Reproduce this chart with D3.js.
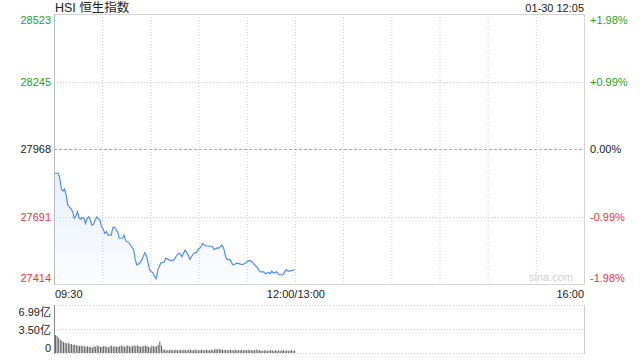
<!DOCTYPE html>
<html>
<head>
<meta charset="utf-8">
<script src="https://cdn.jsdelivr.net/npm/d3@7"></script>
<style>
  body { margin: 0; background: #fff; }
  svg { display: block; font-family: "Liberation Sans", Arial, "Noto Sans CJK SC", sans-serif; }
</style>
</head>
<body>
<script>
// minutes after 09:30 (afternoon session continues after minute 150)
var minutes = [0,2,3,4,5,6,7,8,9,10,11,12,13,14,15,16,17,18,19,20,21,22,23,24,25,26,27,28,29,30,
  31,32,33,34,35,36,37,39,40,42,43,44,46,47,49,50,51,53,54,56,57,58,59,61,62,63,64,66,68,69,
  71,72,74,76,77,78,79,81,82,83,84,86,87,88,89,91,92,93,94,96,98,99,101,102,104,105,106,107,109,110,
  111,112,113,114,116,117,118,119,121,122,123,124,126,127,128,130,131,133,134,135,136,138,139,141,142,143,144,145,146,148,149];
var prices = [27869,27869,27848,27804,27796,27804,27777,27738,27730,27722,27711,27684,27694,27711,27684,27681,27686,27684,27663,27684,27690,27677,27656,27659,27677,27690,27681,27677,27649,27640,
  27622,27629,27615,27615,27615,27645,27647,27628,27602,27602,27614,27592,27584,27574,27554,27513,27492,27501,27513,27543,27529,27499,27471,27460,27444,27436,27471,27501,27504,27520,
  27513,27510,27513,27533,27540,27537,27526,27554,27543,27532,27515,27537,27543,27543,27554,27567,27581,27574,27570,27570,27567,27556,27562,27561,27574,27561,27533,27515,27513,27501,
  27492,27495,27500,27499,27495,27495,27497,27503,27511,27508,27503,27495,27481,27470,27464,27464,27456,27462,27456,27467,27459,27464,27454,27451,27454,27464,27473,27467,27467,27470,27473];

// volume per minute, 亿
var volumes = [2.6,2.5,2.2,1.9,1.8,1.6,1.5,1.4,1.5,1.3,
  1.3,1.2,1.2,1.1,1.1,1.0,1.1,1.0,1.0,0.9,
  1.0,0.9,0.9,0.8,1.0,0.9,1.1,1.0,0.9,0.9,
  1.0,1.0,0.9,0.8,1.0,1.1,0.9,1.0,0.9,0.9,
  1.0,1.1,1.0,0.9,1.0,1.1,1.0,0.9,1.0,1.1,
  1.0,1.1,1.0,0.9,1.0,1.0,1.1,1.0,0.9,0.8,
  1.1,1.0,0.9,1.0,1.2,1.7,1.1,0.5,0.5,0.4,
  0.4,0.4,0.5,0.4,0.4,0.5,0.4,0.4,0.5,0.4,
  0.5,0.4,0.4,0.5,0.5,0.4,0.4,0.5,0.4,0.4,
  0.4,0.5,0.4,0.4,0.5,0.4,0.4,0.5,0.4,0.5,
  0.6,0.5,0.6,0.5,0.5,0.4,0.5,0.4,0.4,0.5,
  0.4,0.4,0.5,0.4,0.4,0.4,0.5,0.4,0.4,0.4,
  0.5,0.4,0.4,0.4,0.4,0.5,0.4,0.4,0.4,0.3,
  0.4,0.4,0.3,0.4,0.4,0.4,0.3,0.4,0.3,0.4,
  0.3,0.4,0.4,0.3,0.4,0.3,0.4,0.4,0.3,0.4];

var prevClose = 27968;
var priceTicks = [28523,28245,27968,27691,27414];
var pctTicks = ["+1.98%","+0.99%","0.00%","-0.99%","-1.98%"];
var volTicks = [6.99,3.50,0];
var volTickLabels = ["6.99亿","3.50亿","0"];
var timeTicks = [0,150,330];
var timeLabels = ["09:30","12:00/13:00","16:00"];

var green = "#1ea11e", red = "#f0353a", dark = "#222";
function tickColor(v){ return v > prevClose ? green : (v < prevClose ? red : dark); }

var svg = d3.select("body").append("svg").attr("width", 640).attr("height", 360);

var x = d3.scaleLinear().domain([0, 330]).range([54, 584]);
var y = d3.scaleLinear().domain([27414, 28523]).range([284, 14]);
var yv = d3.scaleLinear().domain([0, 6.99]).range([353, 305]);

// grid
var gridX = d3.range(1, 11).map(function(i){ return i * 30; });
svg.selectAll(".vgrid").data(gridX).enter().append("line")
   .attr("x1", function(d){ return x(d) + 0.5; }).attr("x2", function(d){ return x(d) + 0.5; })
   .attr("y1", 14).attr("y2", 284)
   .attr("stroke", "#ccc").attr("stroke-dasharray", "1,2");

svg.selectAll(".hgrid").data(priceTicks.slice(1, 4)).enter().append("line")
   .attr("x1", 54).attr("x2", 584)
   .attr("y1", function(d){ return Math.round(y(d)) + 0.5; }).attr("y2", function(d){ return Math.round(y(d)) + 0.5; })
   .attr("stroke", function(d){ return d === prevClose ? "#aaa" : "#ccc"; })
   .attr("stroke-dasharray", function(d){ return d === prevClose ? "3,2" : "1,2"; });

svg.selectAll(".vhgrid").data(volTicks).enter().append("line")
   .attr("x1", 54).attr("x2", 584)
   .attr("y1", function(d){ return Math.round(yv(d)) + 0.5; }).attr("y2", function(d){ return Math.round(yv(d)) + 0.5; })
   .attr("stroke", "#ccc").attr("stroke-dasharray", "1,2");

// frame
svg.append("rect").attr("x", 54.5).attr("y", 14.5).attr("width", 530).attr("height", 270)
   .attr("fill", "none").attr("stroke", "#d4d4d4");
svg.append("line").attr("x1", 54.5).attr("x2", 54.5).attr("y1", 14).attr("y2", 285).attr("stroke", "#bbb");
svg.append("line").attr("x1", 54.5).attr("x2", 54.5).attr("y1", 305).attr("y2", 354).attr("stroke", "#888");
svg.append("line").attr("x1", 584.5).attr("x2", 584.5).attr("y1", 305).attr("y2", 354).attr("stroke", "#ccc");

// price area + line
var pts = minutes.map(function(m, i){ return [m, prices[i]]; });
var grad = svg.append("defs").append("linearGradient").attr("id", "fillg")
   .attr("x1", 0).attr("x2", 0).attr("y1", 0).attr("y2", 1);
grad.append("stop").attr("offset", "0%").attr("stop-color", "#4a8cf0").attr("stop-opacity", 0.13);
grad.append("stop").attr("offset", "100%").attr("stop-color", "#4a8cf0").attr("stop-opacity", 0.02);

svg.append("path").datum(pts)
   .attr("fill", "url(#fillg)")
   .attr("d", d3.area().x(function(d){ return x(d[0]) + 1; }).y0(284).y1(function(d){ return y(d[1]); }));
svg.append("path").datum(pts)
   .attr("fill", "none").attr("stroke", "#4f8ef2").attr("stroke-width", 1.2)
   .attr("d", d3.line().x(function(d){ return x(d[0]) + 1; }).y(function(d){ return y(d[1]); }));

// volume bars
svg.selectAll(".vol").data(volumes).enter().append("rect")
   .attr("x", function(d, i){ return x(i) + 1; })
   .attr("y", function(d){ return yv(d); })
   .attr("width", 0.9)
   .attr("height", function(d){ return yv(0) - yv(d); })
   .attr("fill", "#555");

// watermark
svg.append("text").attr("x", 573).attr("y", 281).attr("text-anchor", "end")
   .attr("font-size", 11).attr("fill", "#d0d0d0").text("sina.com");

// left price labels
svg.selectAll(".pl").data(priceTicks).enter().append("text")
   .attr("x", 51).attr("text-anchor", "end").attr("font-size", 11)
   .attr("y", function(d, i){ var yy = y(d); if (i === 0) yy += 6; if (i === 4) yy -= 6; return yy + 4; })
   .attr("fill", tickColor)
   .text(function(d){ return d; });

// right pct labels
svg.selectAll(".pr").data(priceTicks).enter().append("text")
   .attr("x", 590).attr("text-anchor", "start").attr("font-size", 11)
   .attr("y", function(d, i){ var yy = y(d); if (i === 0) yy += 6; if (i === 4) yy -= 6; return yy + 4; })
   .attr("fill", tickColor)
   .text(function(d, i){ return pctTicks[i]; });

// time labels
svg.selectAll(".tl").data(timeTicks).enter().append("text")
   .attr("x", function(d, i){ return i === 2 ? x(d) : x(d) + 1; })
   .attr("y", 298).attr("font-size", 11).attr("fill", dark)
   .attr("text-anchor", function(d, i){ return ["start", "middle", "end"][i]; })
   .text(function(d, i){ return timeLabels[i]; });

// volume labels
svg.selectAll(".vl").data(volTicks).enter().append("text")
   .attr("x", 51).attr("text-anchor", "end").attr("font-size", 11).attr("fill", dark)
   .attr("y", function(d, i){ return [316, 334, 352][i]; })
   .text(function(d, i){ return volTickLabels[i]; });

// title + timestamp
svg.append("text").attr("x", 55).attr("y", 12).attr("font-size", 12.5).attr("fill", dark).text("HSI 恒生指数");
svg.append("text").attr("x", 584).attr("y", 12).attr("text-anchor", "end").attr("font-size", 11).attr("fill", dark).text("01-30 12:05");
</script>
</body>
</html>
